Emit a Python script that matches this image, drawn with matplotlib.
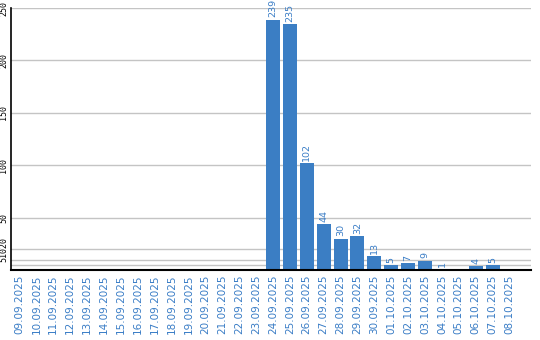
import numpy as np
import matplotlib
matplotlib.use('Agg')
import matplotlib.pyplot as plt

dates = ['09.09.2025', '10.09.2025', '11.09.2025', '12.09.2025', '13.09.2025',
         '14.09.2025', '15.09.2025', '16.09.2025', '17.09.2025', '18.09.2025',
         '19.09.2025', '20.09.2025', '21.09.2025', '22.09.2025', '23.09.2025',
         '24.09.2025', '25.09.2025', '26.09.2025', '27.09.2025', '28.09.2025',
         '29.09.2025', '30.09.2025', '01.10.2025', '02.10.2025', '03.10.2025',
         '04.10.2025', '05.10.2025', '06.10.2025', '07.10.2025', '08.10.2025']
counts = [0, 0, 0, 0, 0, 0, 0, 0, 0, 0, 0, 0, 0, 0, 0,
          239, 235, 102, 44, 30, 32, 13, 5, 7, 9, 1, 0, 4, 5, 0]
y_ticks = [5, 10, 20, 50, 100, 150, 200, 250]
y_tick_labels = ['', '', '51020', '50', '100', '150', '200', '250']

bar_color = '#3b7ec4'
text_color = '#3a7dc6'

fig = plt.figure(figsize=(5.4, 3.4), dpi=100)
ax = fig.add_axes([11 / 540, 70 / 340, 520 / 540, 262 / 340])

x = np.arange(len(dates))
ax.bar(x, counts, width=0.83, color=bar_color, zorder=2)

# value labels over non-empty days
for xi, c in zip(x, counts):
    if c > 0:
        ax.annotate(str(c), (xi, c), xytext=(0, 1.5), textcoords='offset points',
                    rotation=90, ha='center', va='bottom', fontsize=6.8,
                    color=text_color, zorder=3)

ax.set_xlim(-0.5, 30.27)
ax.set_ylim(0, 250)
ax.set_xticks(x)
ax.set_xticklabels(dates, rotation=90, fontsize=7.5, color=text_color)
ax.set_yticks(y_ticks)
ax.set_yticklabels(y_tick_labels, rotation=90, va='center', fontsize=6,
                   family='DejaVu Sans Mono')
ax.tick_params(axis='both', length=0, pad=3)
ax.tick_params(axis='y', pad=2)

ax.grid(axis='y', color='#c4c4c4', linewidth=1, zorder=0)
ax.spines['top'].set_visible(False)
ax.spines['right'].set_visible(False)
ax.spines['left'].set_linewidth(1.2)
ax.spines['bottom'].set_linewidth(1.5)

fig.savefig('out.png', dpi=100)
